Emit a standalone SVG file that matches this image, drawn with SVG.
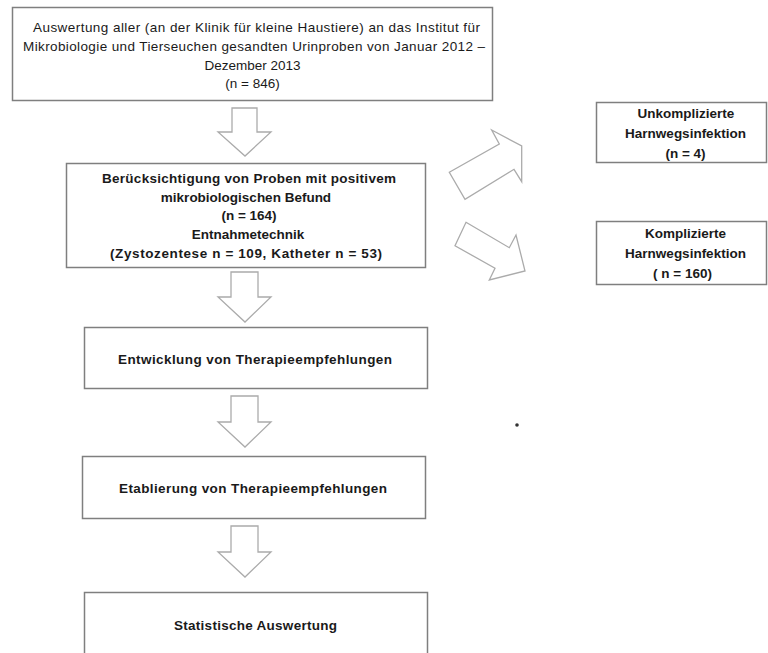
<svg xmlns="http://www.w3.org/2000/svg" width="768" height="653" viewBox="0 0 768 653">
<style>
.box{fill:#fff;stroke:#7f7f7f;stroke-width:1.5}
.arr{fill:#fff;stroke:#ababab;stroke-width:1.3;stroke-linejoin:miter}
.t{font-family:"Liberation Sans",Arial,sans-serif;font-size:13.5px;fill:#1a1a1a;text-anchor:middle}
.b{font-weight:bold}
</style>
<rect width="768" height="653" fill="#fff"/>
<g id="connectors">
<polygon class="arr" points="232,108 257,108 257,132 271,132 245,156 218,132 232,132"/>
<polygon class="arr" points="231,272 258,272 258,297 271,297 245,322 218,297 231,297"/>
<polygon class="arr" points="231,396 258,396 258,422 271,422 245,447 218,422 231,422"/>
<polygon class="arr" points="231,526 258,526 258,552 271,552 245,577 218,552 231,552"/>
<polygon class="arr" points="449.3,172.3 499.3,144 491.7,130 521.7,146 521.7,181.7 514,169.3 465,199.3"/>
<polygon class="arr" points="466,222.3 509.3,247.7 516,235 525,271 489.3,280 495,268.3 455,245.7"/>
</g>
<g id="n1">
<rect class="box" x="12.5" y="7.5" width="480" height="93"/>
<text class="t" x="256.5" y="32" textLength="447" lengthAdjust="spacing">Auswertung aller (an der Klinik für kleine Haustiere) an das Institut für</text>
<text class="t" x="254" y="51" textLength="462" lengthAdjust="spacing">Mikrobiologie und Tierseuchen gesandten Urinproben von Januar 2012 –</text>
<text class="t" x="252.5" y="70">Dezember 2013</text>
<text class="t" x="252.5" y="88">(n = 846)</text>
</g>
<g id="n2">
<rect class="box" x="66.5" y="163.5" width="359" height="104"/>
<text class="t b" x="249" y="183" textLength="294" lengthAdjust="spacing">Berücksichtigung von Proben mit positivem</text>
<text class="t b" x="246" y="202">mikrobiologischen Befund</text>
<text class="t b" x="249" y="220">(n = 164)</text>
<text class="t b" x="248" y="239">Entnahmetechnik</text>
<text class="t b" x="246" y="258" textLength="272" lengthAdjust="spacing">(Zystozentese n = 109, Katheter n = 53)</text>
</g>
<g id="n3">
<rect class="box" x="84.5" y="327.5" width="343" height="61"/>
<text class="t b" x="255" y="364" textLength="274" lengthAdjust="spacing">Entwicklung von Therapieempfehlungen</text>
</g>
<g id="n4">
<rect class="box" x="82.5" y="456.5" width="343" height="62"/>
<text class="t b" x="253" y="493" textLength="268" lengthAdjust="spacing">Etablierung von Therapieempfehlungen</text>
</g>
<g id="n5">
<rect class="box" x="84.5" y="592.5" width="343" height="70"/>
<text class="t b" x="255.5" y="630" textLength="163" lengthAdjust="spacing">Statistische Auswertung</text>
</g>
<g id="n6">
<rect class="box" x="596.5" y="102.5" width="170" height="60"/>
<text class="t b" x="686" y="118">Unkomplizierte</text>
<text class="t b" x="685.5" y="138">Harnwegsinfektion</text>
<text class="t b" x="685.5" y="158">(n = 4)</text>
</g>
<g id="n7">
<rect class="box" x="596.5" y="221.5" width="170" height="63"/>
<text class="t b" x="685.5" y="238">Komplizierte</text>
<text class="t b" x="685.5" y="258">Harnwegsinfektion</text>
<text class="t b" x="682.5" y="278">( n = 160)</text>
</g>
<circle cx="517" cy="425" r="1.8" fill="#333"/>
</svg>
